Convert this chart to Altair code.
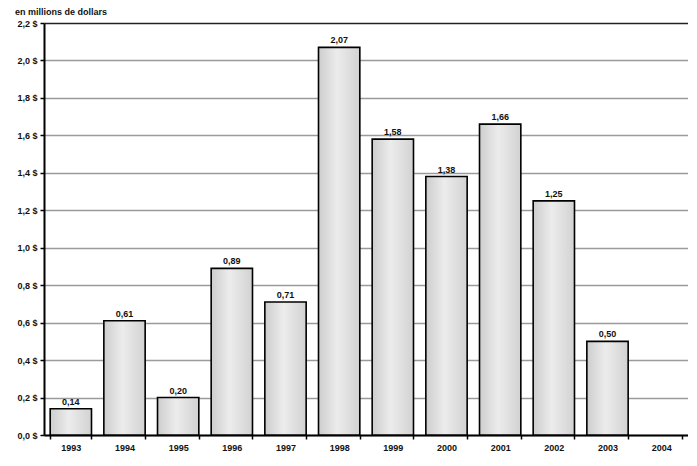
import altair as alt
import pandas as pd

years = ["1993", "1994", "1995", "1996", "1997", "1998", "1999", "2000", "2001", "2002", "2003", "2004"]
values = [0.14, 0.61, 0.20, 0.89, 0.71, 2.07, 1.58, 1.38, 1.66, 1.25, 0.50, None]
y_ticks = [0.0, 0.2, 0.4, 0.6, 0.8, 1.0, 1.2, 1.4, 1.6, 1.8, 2.0, 2.2]

df = pd.DataFrame({"year": years, "value": values})

FONT = "Liberation Sans"

x_enc = alt.X(
    "year:N", sort=years, title=None,
    scale=alt.Scale(paddingInner=0.23, paddingOuter=0.115),
    axis=alt.Axis(
        labelAngle=0, labelFont=FONT, labelFontSize=9, labelFontWeight="bold",
        labelColor="#111", domainColor="#000", domainWidth=2,
        tickColor="#000", tickWidth=1.5, tickSize=4, tickBand="extent",
        labelPadding=4, grid=False,
    ),
)
y_enc = alt.Y(
    "value:Q", title=None,
    scale=alt.Scale(domain=[0, 2.2], nice=False),
    axis=alt.Axis(
        values=y_ticks,
        labelExpr="replace(format(datum.value, '.1f'), '.', ',') + ' $'",
        labelFont=FONT, labelFontSize=9, labelFontWeight="bold", labelColor="#111",
        labelOverlap=False,
        domainColor="#000", domainWidth=2, tickColor="#000", tickWidth=1.5, tickSize=4,
        grid=True, gridColor=alt.expr("datum.value > 2.1 ? '#222' : '#9a9a9a'"),
        gridWidth=1.5, labelPadding=3,
    ),
)

base = alt.Chart(df).encode(x=x_enc, y=y_enc)

bars = base.mark_bar(
    stroke="#000", strokeWidth=1.6,
    color=alt.Gradient(
        gradient="linear", x1=0, x2=1, y1=0, y2=0,
        stops=[
            alt.GradientStop(color="#cdcdcd", offset=0),
            alt.GradientStop(color="#ececec", offset=0.45),
            alt.GradientStop(color="#d2d2d2", offset=1),
        ],
    ),
)

labels = base.transform_filter("isValid(datum.value)").transform_calculate(
    lbl="replace(format(datum.value, '.2f'), '.', ',')"
).mark_text(
    dy=-7, font=FONT, fontSize=9, fontWeight="bold", color="#111"
).encode(text="lbl:N")

chart = (bars + labels).properties(
    width=644, height=412,
    title=alt.Title("en millions de dollars", anchor="start", font=FONT, fontSize=9,
                    fontWeight="bold", color="#111", offset=2, dx=-2),
    autosize=alt.AutoSizeParams(type="none"),
    padding={"left": 36, "top": 15, "right": 0, "bottom": 22},
).configure_view(stroke=None)

chart.save("out.html", embed_options={"renderer": "svg", "actions": False})
